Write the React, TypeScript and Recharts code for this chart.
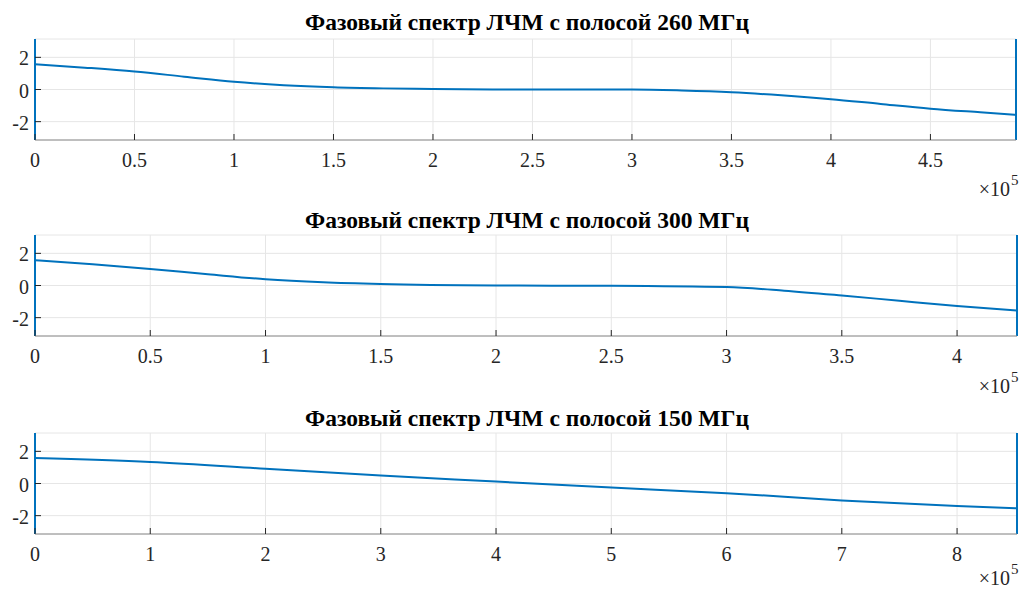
import React from 'react';
import { LineChart, Line, XAxis, YAxis, CartesianGrid } from 'recharts';

const PI = Math.PI;

const titles = [
  'Фазовый спектр ЛЧМ с полосой 260 МГц',
  'Фазовый спектр ЛЧМ с полосой 300 МГц',
  'Фазовый спектр ЛЧМ с полосой 150 МГц',
];

// x values in units of 1e5
const freq260 = [0, 0.25, 0.5, 0.75, 1, 1.25, 1.5, 1.75, 2, 2.5, 3, 3.25, 3.5, 3.75, 4, 4.25, 4.5, 4.75, 4.93];
const phase260 = [1.57, 1.36, 1.12, 0.8, 0.48, 0.27, 0.14, 0.07, 0.03, 0.0, 0.0, -0.06, -0.17, -0.36, -0.6, -0.9, -1.19, -1.42, -1.58];
const ticks260 = [0, 0.5, 1, 1.5, 2, 2.5, 3, 3.5, 4, 4.5];
const max260 = 4.93;

const freq300 = [0, 0.25, 0.5, 0.75, 1, 1.25, 1.5, 2, 2.5, 3, 3.25, 3.5, 3.75, 4, 4.26];
const phase300 = [1.57, 1.32, 1.03, 0.7, 0.39, 0.2, 0.09, 0.0, -0.02, -0.1, -0.32, -0.62, -0.95, -1.27, -1.56];
const ticks300 = [0, 0.5, 1, 1.5, 2, 2.5, 3, 3.5, 4];
const max300 = 4.26;

const freq150 = [0, 1, 2, 3, 4, 5, 6, 7, 8, 8.52];
const phase150 = [1.58, 1.34, 0.92, 0.49, 0.12, -0.25, -0.6, -1.05, -1.4, -1.54];
const ticks150 = [0, 1, 2, 3, 4, 5, 6, 7, 8];
const max150 = 8.52;

const yTicks = [-2, 0, 2];
const exponentLabel = '5';

const FONT = 'Liberation Serif, Times New Roman, serif';
const TEXT = '#262626';
const BLUE = '#0072BD';
const BOX = '#8a8a8a';
const GRID = '#e6e6e6';

const BottomTick = (props: any) => {
  const { x, y, payload } = props;
  return (
    <g>
      <line x1={x} x2={x} y1={y} y2={y - 6} stroke={TEXT} strokeWidth={1} />
      <text x={x} y={y + 27} textAnchor="middle" fontFamily={FONT} fontSize={20} fill={TEXT}>
        {String(payload.value)}
      </text>
    </g>
  );
};
const TopTick = (props: any) => {
  const { x, y } = props;
  return <line x1={x} x2={x} y1={y} y2={y + 6} stroke={TEXT} strokeWidth={1} />;
};
const LeftTick = (props: any) => {
  const { x, y, payload } = props;
  return (
    <g>
      <line x1={x} x2={x + 6} y1={y} y2={y} stroke={TEXT} strokeWidth={1} />
      <text x={x - 6} y={y + 8} textAnchor="end" fontFamily={FONT} fontSize={20} fill={TEXT}>
        {String(payload.value)}
      </text>
    </g>
  );
};
const RightTick = (props: any) => {
  const { x, y } = props;
  return <line x1={x} x2={x - 6} y1={y} y2={y} stroke={TEXT} strokeWidth={1} />;
};

type PanelProps = {
  top: number;
  height: number;
  xAxisHeight: number;
  right: number;
  xs: number[];
  ys: number[];
  xTicks: number[];
  xMax: number;
};

const Panel = ({ top, height, xAxisHeight, right, xs, ys, xTicks, xMax }: PanelProps) => {
  const curve = xs.map((x, i) => ({ x, y: ys[i] }));
  const leftEdge = [
    { x: 0, y: -PI },
    { x: 0, y: PI },
  ];
  const rightEdge = [
    { x: xMax, y: ys[ys.length - 1] },
    { x: xMax, y: PI },
    { x: xMax, y: -PI },
  ];
  return (
    <div style={{ position: 'absolute', left: 0, top, width: 1021, height }}>
      <LineChart width={1021} height={height} margin={{ top: 39, right, left: 0, bottom: 0 }}>
        <CartesianGrid stroke={GRID} strokeWidth={1} />
        <XAxis
          xAxisId={0}
          dataKey="x"
          type="number"
          domain={[0, xMax]}
          ticks={xTicks}
          interval={0}
          height={xAxisHeight}
          tickSize={0}
          tickMargin={0}
          axisLine={{ stroke: BOX }}
          tickLine={false}
          tick={<BottomTick />}
        />
        <XAxis
          xAxisId="top"
          orientation="top"
          dataKey="x"
          type="number"
          domain={[0, xMax]}
          ticks={xTicks}
          interval={0}
          height={0}
          tickSize={0}
          tickMargin={0}
          axisLine={{ stroke: BOX }}
          tickLine={false}
          tick={<TopTick />}
        />
        <YAxis
          yAxisId={0}
          type="number"
          domain={[-PI, PI]}
          ticks={yTicks}
          interval={0}
          width={35}
          tickSize={0}
          tickMargin={0}
          axisLine={false}
          tickLine={false}
          tick={<LeftTick />}
        />
        <YAxis
          yAxisId="right"
          orientation="right"
          type="number"
          domain={[-PI, PI]}
          ticks={yTicks}
          interval={0}
          width={0}
          tickSize={0}
          tickMargin={0}
          axisLine={false}
          tickLine={false}
          tick={<RightTick />}
        />
        <Line data={leftEdge} dataKey="y" type="linear" stroke={BLUE} strokeWidth={2} dot={false} isAnimationActive={false} />
        <Line data={curve} dataKey="y" type="monotone" stroke={BLUE} strokeWidth={2} dot={false} isAnimationActive={false} />
        <Line data={rightEdge} dataKey="y" type="linear" stroke={BLUE} strokeWidth={2} dot={false} isAnimationActive={false} />
      </LineChart>
    </div>
  );
};

const Exponent = ({ baseline }: { baseline: number }) => (
  <g>
    <text x={1010} y={baseline} textAnchor="end" fontFamily={FONT} fontSize={20} fill={TEXT}>
      ×10
    </text>
    <text x={1011} y={baseline - 11} textAnchor="start" fontFamily={FONT} fontSize={15} fill={TEXT}>
      {exponentLabel}
    </text>
  </g>
);

export default function App() {
  return (
    <div style={{ position: 'absolute', left: 0, top: 0, width: 1021, height: 592, background: '#fff', overflow: 'hidden' }}>
      <Panel top={0} height={200} xAxisHeight={60} right={5} xs={freq260} ys={phase260} xTicks={ticks260} xMax={max260} />
      <Panel top={196} height={200} xAxisHeight={60} right={4} xs={freq300} ys={phase300} xTicks={ticks300} xMax={max300} />
      <Panel top={394} height={198} xAxisHeight={58} right={4} xs={freq150} ys={phase150} xTicks={ticks150} xMax={max150} />
      <svg width={1021} height={592} style={{ position: 'absolute', left: 0, top: 0, pointerEvents: 'none' }}>
        <text x={527} y={30} textAnchor="middle" fontFamily={FONT} fontWeight="bold" fontSize={23.5} fill="#000">
          {titles[0]}
        </text>
        <text x={527} y={228} textAnchor="middle" fontFamily={FONT} fontWeight="bold" fontSize={23.5} fill="#000">
          {titles[1]}
        </text>
        <text x={527} y={426} textAnchor="middle" fontFamily={FONT} fontWeight="bold" fontSize={23.5} fill="#000">
          {titles[2]}
        </text>
        <Exponent baseline={196} />
        <Exponent baseline={393} />
        <Exponent baseline={585} />
      </svg>
    </div>
  );
}
